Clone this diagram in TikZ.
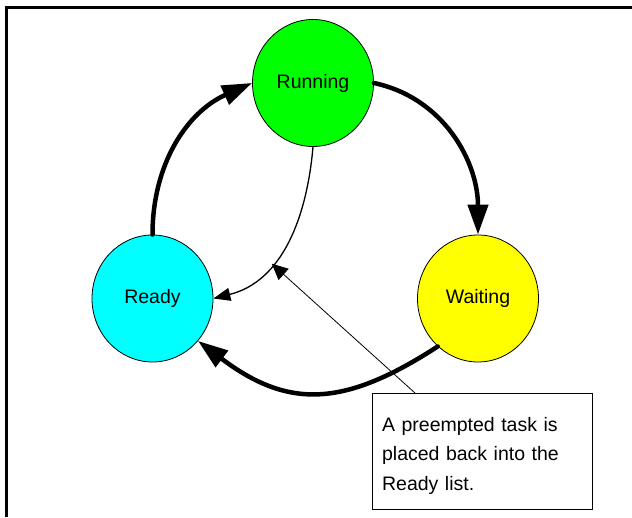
\documentclass[tikz,border=0pt]{standalone}
\usepackage{fontspec}
\setmainfont{Liberation Sans}
\usetikzlibrary{shapes.geometric, arrows.meta, calc}
\definecolor{runninggreen}{RGB}{0,255,0}
\definecolor{readycyan}{RGB}{0,255,255}
\definecolor{waitingyellow}{RGB}{255,255,0}
\begin{document}
\begin{tikzpicture}[x=1pt, y=1pt,
  state/.style={ellipse, draw=black, line width=0.8pt, minimum width=121pt, minimum height=127pt, inner sep=0pt, font=\fontsize{19.5}{23}\selectfont},
  thickarc/.style={line width=4.5pt, line cap=round, -{Triangle[length=30pt, width=20pt]}},
  thinarc/.style={line width=1.3pt, -{Triangle[length=17pt, width=13pt]}},
  pointer/.style={line width=0.8pt, -{Triangle[length=16pt, width=15pt]}},
  notebox/.style={draw=black, line width=0.8pt, text width=200.6pt, inner xsep=9.7pt, inner ysep=0pt, align=left, font=\fontsize{19.5}{29.3}\selectfont}
]
\useasboundingbox (0,0) rectangle (632,517);
\fill[white] (0,0) rectangle (632,517);
\draw[line width=3pt] (6.5,0) -- (6.5,509.5) -- (632,509.5);

\node[state, fill=runninggreen] (running) at (313,434) {Running};
\node[state, fill=readycyan] (ready) at (152.5,218.5) {Ready};
\node[state, fill=waitingyellow] (waiting) at (478,218.5) {Waiting};

\node[notebox, anchor=north west] (note) at (372,124)
  {\rule{0pt}{38pt}A preempted task is\\placed back into the\\Ready list.\rule[-19.5pt]{0pt}{19.5pt}};

\draw[thickarc] (ready.north) to[out=90, in=204] (running.west);
\draw[thickarc] (running.east) to[out=-12, in=90] (waiting.north);
\draw[thickarc] (waiting.230) to[out=213, in=-37, looseness=1.2] (ready.-43);
\draw[thinarc] (running.south) to[out=265, in=14] coordinate[pos=0.64] (hit) (ready.east);

\coordinate (ptr) at ($(note.north west)+(43,0)$);
\draw[pointer] (ptr) -- (hit);
\end{tikzpicture}
\end{document}
